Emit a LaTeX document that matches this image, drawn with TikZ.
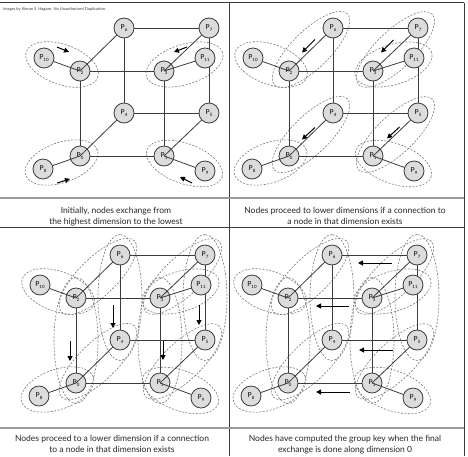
\documentclass[tikz,border=0pt]{standalone}
\usepackage{fontspec}
\setmainfont{Lato}
\usetikzlibrary{arrows.meta}
\pgfdeclarelayer{bg}
\pgfdeclarelayer{paper}
\pgfsetlayers{paper,bg,main}
\definecolor{nodefill}{HTML}{DCDCDC}
\definecolor{nodeline}{HTML}{3C3C3C}
\definecolor{edgecol}{HTML}{3C3C3C}
\definecolor{ellcol}{HTML}{7A7A7A}
\definecolor{rulecol}{HTML}{9A9A9A}
\definecolor{framecol}{HTML}{3A3A3A}
\tikzset{
  pnode/.style={circle, minimum size=20pt, inner sep=0pt, fill=nodefill, draw=nodeline, line width=0.8pt},
  edge/.style={draw=edgecol, line width=0.8pt},
  ell/.style={draw=ellcol, dash pattern=on 2pt off 1.5pt, line width=0.6pt},
  flow/.style={line width=1pt, -{Triangle[length=5pt,width=5pt]}},
  captext/.style={font=\fontsize{8.5}{9}\selectfont, anchor=base, inner sep=0pt, text=black!85},
  frame/.style={draw=framecol, line width=0.8pt},
  rule/.style={draw=rulecol, line width=1.6pt}
}
\newcommand\plab[1]{{\fontsize{6.8}{6.8}\selectfont P}\raisebox{-1.6pt}{\fontsize{4.4}{4.4}\selectfont #1}}
\newcommand\ringat[5]{\begin{scope}[shift={(#1,#2)},rotate=#3]\draw[ell] (0,0) ellipse [x radius=#4pt, y radius=#5pt];\end{scope}}
\newcommand\pendrings{%
  \ringat{-18}{-6.5}{-19.9}{38}{20}%
  \ringat{104.5}{-6.5}{17.6}{40}{20}%
  \ringat{-18.5}{91.5}{19.4}{38}{20}%
  \ringat{104.5}{92.5}{-20.1}{40}{20}}
\newcommand\diagrings{%
  \ringat{22}{-21.5}{44.3}{51}{19}%
  \ringat{106.5}{-21.5}{43.7}{51}{19}%
  \ringat{22}{63.5}{44.3}{51}{19}%
  \ringat{106.5}{63.5}{43.7}{51}{19}}
\newcommand\vertrings{%
  \ringat{0}{42.5}{90}{63}{22}%
  \ringat{44}{-0.5}{90}{63}{22}%
  \ringat{84}{42.5}{90}{63}{22}%
  \ringat{129}{-0.5}{90}{63}{22}}
\newcommand\cubenodes[1]{%
  \node[pnode] (#1P2) at (0,0) {\plab{2}};
  \node[pnode] (#1P3) at (84,0) {\plab{3}};
  \node[pnode] (#1P6) at (44,-43) {\plab{6}};
  \node[pnode] (#1P7) at (129,-43) {\plab{7}};
  \node[pnode] (#1P4) at (44,42) {\plab{4}};
  \node[pnode] (#1P5) at (129,42) {\plab{5}};
  \node[pnode] (#1P0) at (0,85) {\plab{0}};
  \node[pnode] (#1P1) at (84,85) {\plab{1}};
  \node[pnode] (#1P10) at (-36,-13) {\plab{10}};
  \node[pnode] (#1P11) at (125,-13) {\plab{11}};
  \node[pnode] (#1P8) at (-37,98) {\plab{8}};
  \node[pnode] (#1P9) at (125,100) {\plab{9}};
  \begin{pgfonlayer}{bg}
    \draw[edge] (#1P6) -- (#1P7) (#1P2) -- (#1P3) (#1P4) -- (#1P5) (#1P0) -- (#1P1)
                (#1P6) -- (#1P4) (#1P7) -- (#1P5) (#1P2) -- (#1P0) (#1P3) -- (#1P1);
  \end{pgfonlayer}
  \draw[edge] (#1P6) -- (#1P2.center) (#1P7) -- (#1P3.center)
              (#1P4) -- (#1P0.center) (#1P5) -- (#1P1.center)
              (#1P10) -- (#1P2.center) (#1P11) -- (#1P3.center)
              (#1P8) -- (#1P0.center) (#1P9) -- (#1P1.center);
}
\begin{document}
\begin{tikzpicture}[x=1pt, y=-1pt]
\useasboundingbox (0,0) rectangle (468,456);
\begin{pgfonlayer}{paper}
\fill[white] (0,0) rectangle (468,456);
\end{pgfonlayer}

% frame
\draw[frame] (0,2.5) -- (464,2.5);
\draw[frame] (229,2.5) -- (229,456);
\draw[frame] (464,2.5) -- (464,456);
\draw[frame] (0,227.5) -- (464,227.5);
\draw[rule] (0,198) -- (464,198);
\draw[rule] (0,428) -- (464,428);

\node[anchor=base west, inner sep=0pt, font=\fontsize{4}{4}\selectfont, text=black!75] (credit) at (3,10.5)
  {Images by Kieran S. Hagzan. No Unauthorized Duplication.};

% panel 1
\begin{scope}[shift={(80,71)}]
  \begin{pgfonlayer}{bg}\pendrings\end{pgfonlayer}
  \cubenodes{a}
\end{scope}
\draw[flow] (57,47) -- (69,52);
\draw[flow] (187,47) -- (174,52);
\draw[flow] (57,183) -- (70,179);
\draw[flow] (192,183) -- (180,177);
\node[captext] (capAa) at (116,213.5) {Initially, nodes exchange from};
\node[captext] (capAb) at (116,224.5) {the highest dimension to the lowest};

% panel 2
\begin{scope}[shift={(289,71)}]
  \begin{pgfonlayer}{bg}\pendrings\diagrings\end{pgfonlayer}
  \cubenodes{b}
\end{scope}
\draw[flow] (315,39.5) -- (302,52.5);
\draw[flow] (393.5,40) -- (381,52.5);
\draw[flow] (315,127.5) -- (302,139.5);
\draw[flow] (399.5,127) -- (387,138.5);
\node[captext] (capBa) at (345,213.5) {Nodes proceed to lower dimensions if a connection to};
\node[captext] (capBb) at (345,224.5) {a node in that dimension exists};

% panel 3
\begin{scope}[shift={(76,298)}]
  \begin{pgfonlayer}{bg}\pendrings\diagrings\vertrings\end{pgfonlayer}
  \cubenodes{c}
\end{scope}
\draw[flow] (70,341) -- (70,361);
\draw[flow] (113,305) -- (113,328);
\draw[flow] (163,341) -- (163,360);
\draw[flow] (199,305) -- (199,325);
\node[captext] (capCa) at (112,441.5) {Nodes proceed to a lower dimension if a connection};
\node[captext] (capCb) at (112,452.5) {to a node in that dimension exists};

% panel 4
\begin{scope}[shift={(288,298)}]
  \begin{pgfonlayer}{bg}\pendrings\diagrings\vertrings\end{pgfonlayer}
  \cubenodes{d}
\end{scope}
\draw[flow] (392,263) -- (358,263);
\draw[flow] (349,306) -- (316,306);
\draw[flow] (393,350) -- (359,350);
\draw[flow] (350,392) -- (316,392);
\node[captext] (capDa) at (345,441.5) {Nodes have computed the group key when the final};
\node[captext] (capDb) at (345,452.5) {exchange is done along dimension 0};
\end{tikzpicture}
\end{document}
